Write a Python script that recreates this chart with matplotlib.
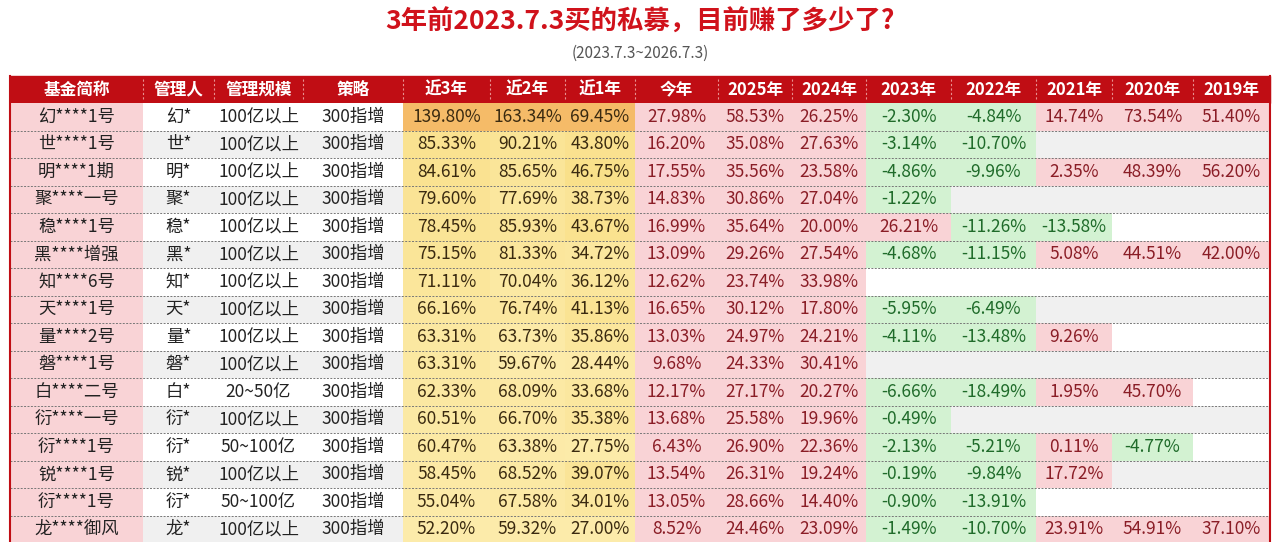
import matplotlib.pyplot as plt
import matplotlib.patches as mpatches
from matplotlib.colors import LinearSegmentedColormap

plt.rcParams['font.family'] = ['Noto Sans CJK SC', 'DejaVu Sans']

title = "3年前2023.7.3买的私募，目前赚了多少了?"
subtitle = "(2023.7.3~2026.7.3)"

headers = ["基金简称", "管理人", "管理规模", "策略", "近3年", "近2年", "近1年", "今年",
           "2025年", "2024年", "2023年", "2022年", "2021年", "2020年", "2019年"]

names = ["幻****1号", "世****1号", "明****1期", "聚****一号", "稳****1号", "黑****增强",
         "知****6号", "天****1号", "量****2号", "磐****1号", "白****二号", "衍****一号",
         "衍****1号", "锐****1号", "衍****1号", "龙****御风"]
managers = ["幻*", "世*", "明*", "聚*", "稳*", "黑*", "知*", "天*", "量*", "磐*", "白*",
            "衍*", "衍*", "锐*", "衍*", "龙*"]
scales = ["100亿以上"] * 10 + ["20~50亿", "100亿以上", "50~100亿", "100亿以上", "50~100亿", "100亿以上"]
strategy = ["300指增"] * 16

N = None
y3 = [139.80, 85.33, 84.61, 79.60, 78.45, 75.15, 71.11, 66.16, 63.31, 63.31, 62.33, 60.51, 60.47, 58.45, 55.04, 52.20]
y2 = [163.34, 90.21, 85.65, 77.69, 85.93, 81.33, 70.04, 76.74, 63.73, 59.67, 68.09, 66.70, 63.38, 68.52, 67.58, 59.32]
y1 = [69.45, 43.80, 46.75, 38.73, 43.67, 34.72, 36.12, 41.13, 35.86, 28.44, 33.68, 35.38, 27.75, 39.07, 34.01, 27.00]
ytd = [27.98, 16.20, 17.55, 14.83, 16.99, 13.09, 12.62, 16.65, 13.03, 9.68, 12.17, 13.68, 6.43, 13.54, 13.05, 8.52]
r2025 = [58.53, 35.08, 35.56, 30.86, 35.64, 29.26, 23.74, 30.12, 24.97, 24.33, 27.17, 25.58, 26.90, 26.31, 28.66, 24.46]
r2024 = [26.25, 27.63, 23.58, 27.04, 20.00, 27.54, 33.98, 17.80, 24.21, 30.41, 20.27, 19.96, 22.36, 19.24, 14.40, 23.09]
r2023 = [-2.30, -3.14, -4.86, -1.22, 26.21, -4.68, N, -5.95, -4.11, N, -6.66, -0.49, -2.13, -0.19, -0.90, -1.49]
r2022 = [-4.84, -10.70, -9.96, N, -11.26, -11.15, N, -6.49, -13.48, N, -18.49, N, -5.21, -9.84, -13.91, -10.70]
r2021 = [14.74, N, 2.35, N, -13.58, 5.08, N, N, 9.26, N, 1.95, N, 0.11, 17.72, N, 23.91]
r2020 = [73.54, N, 48.39, N, N, 44.51, N, N, N, N, 45.70, N, -4.77, N, N, 54.91]
r2019 = [51.40, N, 56.20, N, N, 42.00, N, N, N, N, N, N, N, N, N, 37.10]

text_cols = [names, managers, scales, strategy]
heat_cols = [y3, y2, y1]
sign_cols = [ytd, r2025, r2024, r2023, r2022, r2021, r2020, r2019]

xs = [10, 143, 214, 303, 403, 490, 565, 635, 718, 792, 866, 951, 1036, 1112, 1193, 1270]
top, hh, rh = 76, 27, 27.5

fig = plt.figure(figsize=(12.8, 5.42), dpi=100)
ax = fig.add_axes([0, 0, 1, 1])
ax.set_xlim(0, 1280)
ax.set_ylim(542, 0)
ax.axis('off')

ax.text(640, 22, title, ha='center', va='center', fontsize=19, fontweight='bold', color='#d0121b')
ax.text(640, 53, subtitle, ha='center', va='center', fontsize=11, color='#555555')

ax.add_patch(mpatches.Rectangle((xs[0], top), xs[-1] - xs[0], hh, color='#c00d14'))
for i, h in enumerate(headers):
    ax.text((xs[i] + xs[i + 1]) / 2, top + hh / 2, h, ha='center', va='center',
            fontsize=12, fontweight='bold', color='white')
    if i > 0:
        ax.plot([xs[i], xs[i]], [top + 3, top + hh - 3], color='#e89090', lw=0.8, ls=(0, (2, 2)))

cmap = LinearSegmentedColormap.from_list('h', ['#fcebaa', '#f9df88', '#f5bb68'])
y0 = top + hh
for r in range(16):
    yt = y0 + r * rh
    band = '#ffffff' if r % 2 == 0 else '#f0f0f0'
    for c in range(15):
        if c < 4:
            v = text_cols[c][r]
            fc = '#f9d3d6' if c == 0 else band
            s, tc = v, '#222222'
        elif c < 7:
            v = heat_cols[c - 4][r]
            arr = heat_cols[c - 4]
            t = (v - min(arr)) / (max(arr) - min(arr))
            fc = cmap(t)
            s, tc = f"{v:.2f}%", '#3a2a10'
        else:
            v = sign_cols[c - 7][r]
            if v is None:
                fc, s, tc = band, "", 'k'
            elif v >= 0:
                fc, s, tc = '#f9d3d6', f"{v:.2f}%", '#8a1d26'
            else:
                fc, s, tc = '#d3f2d2', f"{v:.2f}%", '#1f6b2a'
        ax.add_patch(mpatches.Rectangle((xs[c], yt), xs[c + 1] - xs[c], rh, color=fc, lw=0))
        if s:
            ax.text((xs[c] + xs[c + 1]) / 2, yt + rh / 2, s, ha='center', va='center',
                    fontsize=12.5, color=tc)
    ax.plot([xs[0], xs[-1]], [yt + rh, yt + rh], color='#777777', lw=0.7, ls=(0, (2, 1.5)))

ax.plot([xs[0], xs[0]], [top, 542], color='#c00d14', lw=1.5)
ax.plot([xs[-1], xs[-1]], [top, 542], color='#c00d14', lw=1.5)

fig.savefig('out.png', dpi=100)
